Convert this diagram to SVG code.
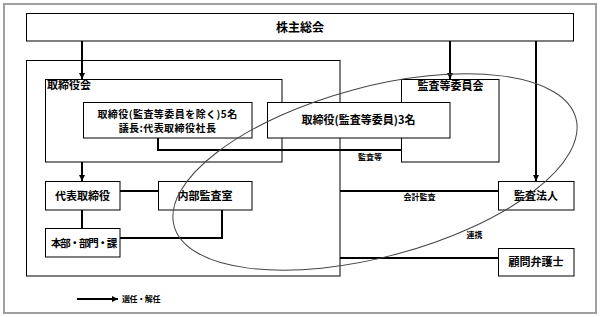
<svg xmlns="http://www.w3.org/2000/svg" width="601" height="317" viewBox="0 0 601 317">
<defs>
<style>
.frame{fill:#fff;stroke:#a0a0a0;stroke-width:2}
.box{fill:#fff;stroke:#000;stroke-width:1}
.cont{fill:none;stroke:#000;stroke-width:1}
.conn{fill:none;stroke:#000;stroke-width:2}
.t{font-family:"Noto Sans CJK JP",sans-serif;font-weight:bold;fill:#000;font-size:11px}
.m{text-anchor:middle}
.s{font-size:8px}
.oval{fill:none;stroke:#444;stroke-width:1}
</style>
<marker id="arr" markerUnits="userSpaceOnUse" markerWidth="7" markerHeight="7" refX="6" refY="3" orient="auto">
<path d="M0,0 L6,3 L0,6 Z" fill="#000"/>
</marker>
</defs>
<rect class="frame" x="4" y="4" width="592" height="309"/>

<g id="shareholders">
<rect class="box" x="26.5" y="13.5" width="547" height="27.5"/>
<text class="t m" x="300" y="31.5" style="font-size:12px">株主総会</text>
</g>
<g id="company">
<rect class="cont" x="26.5" y="60.5" width="313.5" height="215.5"/>
</g>
<g id="board">
<rect class="cont" x="45.5" y="79.5" width="236.5" height="82.5"/>
<text class="t" x="47" y="88.5">取締役会</text>
</g>
<g id="audit-committee">
<rect class="cont" x="401.5" y="79.5" width="97.5" height="82.5"/>
<text class="t m" x="450.5" y="90">監査等委員会</text>
</g>

<g id="connectors">
<path class="conn" d="M158,138 V150 H401"/>
<path class="conn" d="M120,191 H158"/>
<path class="conn" d="M82,210 V228"/>
<path class="conn" d="M222,210 V238 H120"/>
<path class="conn" d="M340,191 H498"/>
<path class="conn" d="M340,258 H498"/>
<path class="conn" d="M82,41 V79" marker-end="url(#arr)"/>
<path class="conn" d="M450,41 V79" marker-end="url(#arr)"/>
<path class="conn" d="M536,41 V181" marker-end="url(#arr)"/>
<path class="conn" d="M82,162 V181" marker-end="url(#arr)"/>
<text class="t s m" x="370" y="160">監査等</text>
<text class="t s m" x="419.5" y="200">会計監査</text>
<text class="t s m" x="474.5" y="238">連携</text>
</g>

<g id="directors5">
<rect class="box" x="83.5" y="102.5" width="168.5" height="35.5"/>
<text class="t m" style="font-size:10px;letter-spacing:0.45px"><tspan x="167.5" y="117.5">取締役(監査等委員を除く)5名</tspan><tspan x="167.5" y="132">議長:代表取締役社長</tspan></text>
</g>
<g id="directors3">
<rect class="box" x="267.5" y="102.5" width="182.5" height="35.5"/>
<text class="t m" x="358.5" y="123.8" style="font-size:11px">取締役(監査等委員)3名</text>
</g>
<g id="representative">
<rect class="box" x="45.5" y="181.5" width="74.5" height="28.5"/>
<text class="t m" x="82.5" y="199.7">代表取締役</text>
</g>
<g id="internal-audit">
<rect class="box" x="158.5" y="181.5" width="93.5" height="28.5"/>
<text class="t m" x="205" y="199.7">内部監査室</text>
</g>
<g id="divisions">
<rect class="box" x="45.5" y="228.5" width="74.5" height="28.5"/>
<text class="t" x="51" y="246.5" style="font-size:10.5px;letter-spacing:-1.2px">本部・部門・課</text>
</g>
<g id="auditor">
<rect class="box" x="498.5" y="181.5" width="75.5" height="28.5"/>
<text class="t m" x="536" y="199.7">監査法人</text>
</g>
<g id="lawyer">
<rect class="box" x="498.5" y="248.5" width="75.5" height="27.5"/>
<text class="t m" x="536" y="266.2">顧問弁護士</text>
</g>

<ellipse class="oval" cx="375" cy="172" rx="208" ry="85" transform="rotate(-15 375 172)"/>

<g id="legend">
<path class="conn" d="M77,299 H118" marker-end="url(#arr)"/>
<text class="t s" x="122" y="302" style="letter-spacing:-0.4px">選任・解任</text>
</g>
</svg>
